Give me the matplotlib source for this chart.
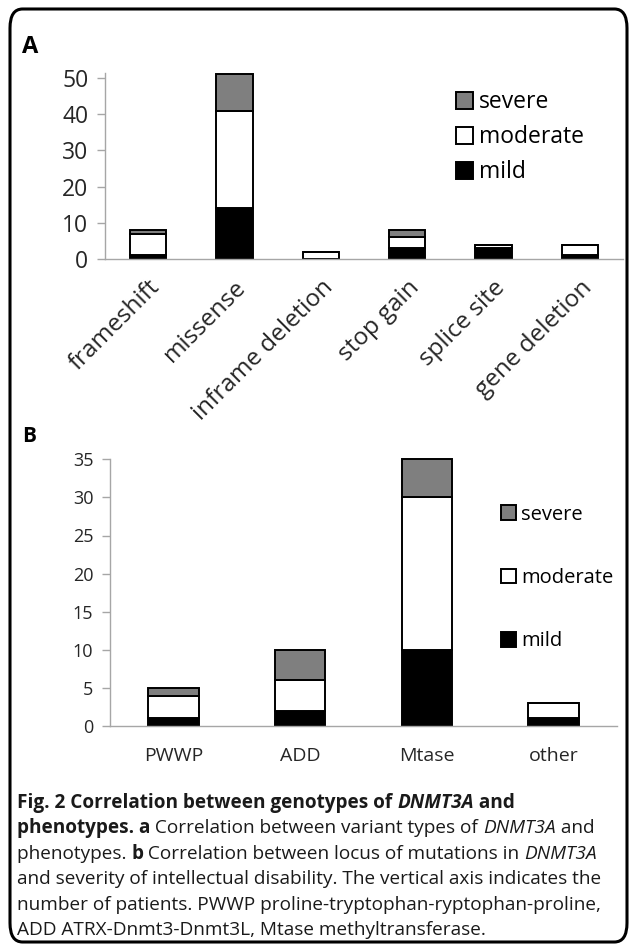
import numpy as np
import matplotlib
matplotlib.use("Agg")
import matplotlib.pyplot as plt
from matplotlib.patches import FancyBboxPatch

plt.rcParams['font.family'] = ['Open Sans', 'DejaVu Sans']

# panel A: variant types
types_a = ["frameshift", "missense", "inframe deletion", "stop gain", "splice site", "gene deletion"]
mild_a = [1, 14, 0, 3, 3, 1]
moderate_a = [6, 27, 2, 3, 1, 3]
severe_a = [1, 10, 0, 2, 0, 0]

# panel B: locus of mutations
locus_b = ["PWWP", "ADD", "Mtase", "other"]
mild_b = [1, 2, 10, 1]
moderate_b = [3, 4, 20, 2]
severe_b = [1, 4, 5, 0]

W, H = 629, 952
fig = plt.figure(figsize=(W / 100, H / 100), dpi=100)

def fx(px):
    return px / W

def fy(py):
    return 1 - py / H

# rounded frame around the whole figure
frame = FancyBboxPatch((fx(10), fy(942)), fx(617), fy(9) - fy(942),
                       boxstyle="round,pad=0,rounding_size=0.02",
                       transform=fig.transFigure, fill=False, lw=2.2, ec="black")
fig.patches.append(frame)

grey = "#a6a6a6"
txt = "#262626"


def stacked(ax, cats, mild, moderate, severe, width, ylim, yticks, fs, leg_kw):
    x = np.arange(len(cats))
    mild = np.array(mild)
    moderate = np.array(moderate)
    severe = np.array(severe)
    ax.bar(x, mild, width, color="black", ec="black", lw=1.4, label="mild", clip_on=False)
    ax.bar(x, moderate, width, bottom=mild, color="white", ec="black", lw=1.4,
           label="moderate", clip_on=False)
    ax.bar(x, severe, width, bottom=mild + moderate, color="#7f7f7f", ec="black", lw=1.4,
           label="severe", clip_on=False)
    ax.set_xlim(-0.5, len(cats) - 0.5)
    ax.set_ylim(*ylim)
    ax.set_yticks(yticks)
    for s in ["top", "right"]:
        ax.spines[s].set_visible(False)
    for s in ["left", "bottom"]:
        ax.spines[s].set_color(grey)
        ax.spines[s].set_linewidth(1.0)
    ax.tick_params(axis="y", length=6, width=1.0, color=grey, labelsize=fs, labelcolor=txt, pad=6)
    ax.tick_params(axis="x", length=0, labelcolor=txt)
    h, l = ax.get_legend_handles_labels()
    ax.legend(h[::-1], l[::-1], frameon=False, **leg_kw)


# panel A
axA = fig.add_axes([fx(105), fy(259), fx(623) - fx(105), fy(259 - 51.5 * 3.62) - fy(259)])
stacked(axA, types_a, mild_a, moderate_a, severe_a, 0.42, (0, 51.5), range(0, 51, 10), 16.5,
        dict(loc="upper left", bbox_to_anchor=(0.66, 0.955), fontsize=16.5, handlelength=0.75,
             handleheight=0.75, handletextpad=0.25, labelspacing=0.48, borderaxespad=0))
axA.set_xticks(np.arange(len(types_a)))
axA.set_xticklabels(types_a, rotation=45, ha="right", rotation_mode="anchor", fontsize=17.5)
axA.tick_params(axis="x", pad=12)

# panel B
axB = fig.add_axes([fx(110), fy(726), fx(617) - fx(110), fy(726 - 35 * 7.62) - fy(726)])
stacked(axB, locus_b, mild_b, moderate_b, severe_b, 0.40, (0, 35), range(0, 36, 5), 13,
        dict(loc="upper left", bbox_to_anchor=(0.755, 0.86), fontsize=14.5, handlelength=0.75,
             handleheight=0.75, handletextpad=0.25, labelspacing=2.15, borderaxespad=0))
axB.set_xticks(np.arange(len(locus_b)))
axB.set_xticklabels(locus_b, fontsize=14)
axB.tick_params(axis="x", pad=15)

fig.text(fx(22), fy(47), "A", fontsize=17, fontweight="bold", va="center", ha="left")
fig.text(fx(22), fy(437), "B", fontsize=15, fontweight="bold", va="center", ha="left")

# caption with mixed styles
cap_lines = [
    [("Fig. 2 Correlation between genotypes of ", "bold", "normal"), ("DNMT3A", "bold", "italic"),
     (" and", "bold", "normal")],
    [("phenotypes. a", "bold", "normal"), (" Correlation between variant types of ", "normal", "normal"),
     ("DNMT3A", "normal", "italic"), (" and", "normal", "normal")],
    [("phenotypes. ", "normal", "normal"), ("b", "bold", "normal"),
     (" Correlation between locus of mutations in ", "normal", "normal"), ("DNMT3A", "normal", "italic")],
    [("and severity of intellectual disability. The vertical axis indicates the", "normal", "normal")],
    [("number of patients. PWWP proline-tryptophan-ryptophan-proline,", "normal", "normal")],
    [("ADD ATRX-Dnmt3-Dnmt3L, Mtase methyltransferase.", "normal", "normal")],
]
renderer = fig.canvas.get_renderer()
y0 = 803
for i, parts in enumerate(cap_lines):
    xpix = 17
    for s, wgt, sty in parts:
        t = fig.text(fx(xpix), fy(y0 + i * 25.4), s, fontsize=13.7, fontweight=wgt, fontstyle=sty,
                     va="center", ha="left", color="#1a1a1a")
        bb = t.get_window_extent(renderer=renderer)
        xpix += bb.width

fig.savefig("out.png", dpi=100)
